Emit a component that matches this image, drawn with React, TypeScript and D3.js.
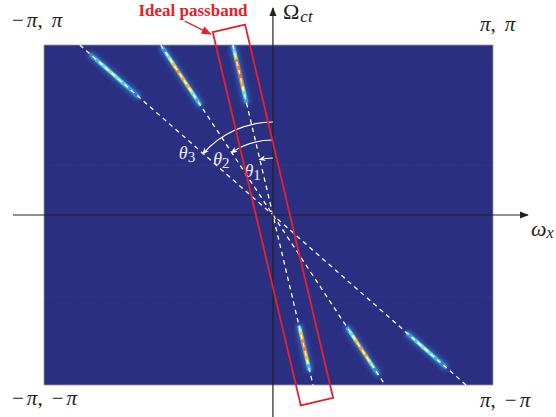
import React from "react";
import * as d3 from "d3";

const W = 556;
const H = 417;

// Spectral support lines: ω_x where each line meets Ω_ct = π
const lineLabels = ["1", "2", "3"];
const lineTopOmega = [-0.55, -1.54, -2.65];

// Energy streaks lying on the lines: which line, Ω_ct range, intensity samples
const streakLine = [0, 0, 1, 1, 2, 2];
const streakOmegaFrom = [3.1, -2.07, 3.08, -2.1, 2.95, -2.2];
const streakOmegaTo = [2.1, -2.85, 2.05, -2.92, 2.2, -2.8];
const streakProfiles = [
  [0.35, 0.5, 0.68, 0.85, 0.97, 0.82, 1.0, 0.86, 0.96, 0.78, 0.62, 0.48, 0.35],
  [0.38, 0.58, 0.75, 0.92, 0.8, 1.0, 0.85, 0.97, 0.8, 0.9, 0.7, 0.5, 0.36],
  [0.3, 0.45, 0.6, 0.74, 0.86, 0.92, 0.8, 0.9, 0.76, 0.62, 0.5, 0.36],
  [0.34, 0.5, 0.64, 0.76, 0.86, 0.92, 0.82, 0.9, 0.72, 0.56, 0.42, 0.32],
  [0.3, 0.42, 0.52, 0.58, 0.62, 0.6, 0.56, 0.5, 0.44, 0.36, 0.28],
  [0.3, 0.44, 0.54, 0.6, 0.62, 0.56, 0.48, 0.38, 0.3],
];

// Ideal passband: band around the first line
const passbandHalfWidth = 0.234; // in ω_x units, measured horizontally
const passbandHalfLength = 3.45; // in Ω_ct units

// Faint grid rows in the spectrum image
const gridRows = [0.92, -1.52];

// Corner labels
const cornerLabels = [
  { w: "−π", o: "π", ax: -1, ay: 1 },
  { w: "π", o: "π", ax: 1, ay: 1 },
  { w: "−π", o: "−π", ax: -1, ay: -1 },
  { w: "π", o: "−π", ax: 1, ay: -1 },
];

const PI = Math.PI;

const x = d3.scaleLinear().domain([-PI, 3.02]).range([44, 493]);
const y = d3.scaleLinear().domain([-PI, PI]).range([385, 45]);

const colormap = d3
  .scaleLinear<string>()
  .domain([0, 0.22, 0.4, 0.55, 0.7, 0.85, 1])
  .range(["#2b2f82", "#2f4fae", "#3d9ee0", "#5fe3e6", "#d6e35a", "#f2b22c", "#e0262a"])
  .interpolate(d3.interpolateRgb)
  .clamp(true);

const lineX = (li: number, om: number) => x((om / PI) * lineTopOmega[li]);

const serif = "'Liberation Serif', 'DejaVu Serif', serif";

function MathPair({ a, b, px, py }: { a: string; b: string; px: number; py: number }) {
  const part = (s: string, lead: number) =>
    s.startsWith("−") ? (
      <>
        <tspan fontStyle="normal" dx={lead}>−</tspan>
        <tspan fontStyle="italic" dx={3}>π</tspan>
      </>
    ) : (
      <tspan fontStyle="italic" dx={lead}>π</tspan>
    );
  return (
    <text x={px} y={py} fontFamily={serif} fontSize={21} fill="#222">
      {part(a, 0)}
      <tspan fontStyle="normal">,</tspan>
      {part(b, 9)}
    </text>
  );
}

export default function App() {
  const x0 = x(0);
  const y0 = y(0);

  // streak geometry
  const streaks = streakProfiles.map((prof, si) => {
    const li = streakLine[si];
    const oms = prof.map((_, k) =>
      streakOmegaFrom[si] + ((streakOmegaTo[si] - streakOmegaFrom[si]) * k) / (prof.length - 1)
    );
    const pts = oms.map((om) => [lineX(li, om), y(om)] as [number, number]);
    return { li, prof, pts };
  });

  // passband rectangle corners
  const l1 = 0;
  const topC: [number, number] = [lineX(l1, passbandHalfLength), y(passbandHalfLength)];
  const botC: [number, number] = [lineX(l1, -passbandHalfLength), y(-passbandHalfLength)];
  const dx = botC[0] - topC[0];
  const dy = botC[1] - topC[1];
  const len = Math.hypot(dx, dy);
  const hw = (x(passbandHalfWidth) - x(0)) * (Math.abs(dy) / len);
  const nx = -dy / len;
  const ny = dx / len;
  const rect: [number, number][] = [
    [topC[0] + nx * hw, topC[1] + ny * hw],
    [topC[0] - nx * hw, topC[1] - ny * hw],
    [botC[0] - nx * hw, botC[1] - ny * hw],
    [botC[0] + nx * hw, botC[1] + ny * hw],
  ];
  const leftTop = rect[0][0] < rect[1][0] ? rect[0] : rect[1];

  const arcRadii = [57, 75, 93];
  const labelOffsets = [
    [1, 17],
    [-2, 13],
    [-8, 5],
  ];

  const lineGen = d3.line();

  return (
    <svg
      width={W}
      height={H}
      style={{ position: "absolute", left: 0, top: 0, background: "#fff" }}
      fontFamily={serif}
    >
      <defs>
        <filter id="blurCore" x="-50%" y="-50%" width="200%" height="200%">
          <feGaussianBlur stdDeviation={0.7} />
        </filter>
        <filter id="blurHalo" x="-50%" y="-50%" width="200%" height="200%">
          <feGaussianBlur stdDeviation={2.2} />
        </filter>
        <clipPath id="plotClip">
          <rect x={x(-PI)} y={y(PI)} width={x(3.02) - x(-PI)} height={y(-PI) - y(PI)} />
        </clipPath>
        <marker id="arrowBlack" viewBox="0 0 10 10" refX={9} refY={5} markerWidth={9} markerHeight={9} markerUnits="userSpaceOnUse" orient="auto">
          <path d="M0,1 L10,5 L0,9 z" fill="#222" />
        </marker>
        <marker id="arrowRed" viewBox="0 0 10 10" refX={9} refY={5} markerWidth={10} markerHeight={10} markerUnits="userSpaceOnUse" orient="auto">
          <path d="M0,1 L10,5 L0,9 z" fill="#e8202a" />
        </marker>
        <marker id="arrowWhite" viewBox="0 0 10 10" refX={8} refY={5} markerWidth={7} markerHeight={7} markerUnits="userSpaceOnUse" orient="auto">
          <path d="M0,1 L10,5 L0,9 L3,5 z" fill="#fff" />
        </marker>
      </defs>

      {/* spectrum image */}
      <g clipPath="url(#plotClip)">
        <rect x={x(-PI)} y={y(PI)} width={x(3.02) - x(-PI)} height={y(-PI) - y(PI)} fill={colormap(0)} />
        {gridRows.map((g, i) => (
          <line key={i} x1={x(-PI)} x2={x(3.02)} y1={y(g)} y2={y(g)} stroke="#4a5aa8" strokeWidth={0.8} strokeDasharray="1,2" opacity={0.5} />
        ))}
        {streaks.map((s, si) => (
          <g key={si}>
            {/* horizontal ringing around the streak */}
            {s.pts.map((p, k) => (
              <line
                key={k}
                x1={p[0] - 16 * s.prof[k]}
                x2={p[0] + 16 * s.prof[k]}
                y1={p[1]}
                y2={p[1]}
                stroke={colormap(0.2)}
                strokeWidth={2}
                opacity={0.45 * s.prof[k]}
                filter="url(#blurCore)"
              />
            ))}
            <path d={lineGen(s.pts) || ""} stroke={colormap(0.32)} strokeWidth={8} fill="none" strokeLinecap="round" opacity={0.65} filter="url(#blurHalo)" />
            <path d={lineGen(s.pts) || ""} stroke={colormap(0.45)} strokeWidth={4.5} fill="none" strokeLinecap="round" opacity={0.6} filter="url(#blurCore)" />
            <g filter="url(#blurCore)">
              {s.pts.slice(1).map((p, k) => (
                <line
                  key={k}
                  x1={s.pts[k][0]}
                  y1={s.pts[k][1]}
                  x2={p[0]}
                  y2={p[1]}
                  stroke={colormap((s.prof[k] + s.prof[k + 1]) / 2)}
                  strokeWidth={3.2}
                  strokeLinecap="round"
                />
              ))}
            </g>
          </g>
        ))}
      </g>
      <rect x={x(-PI)} y={y(PI)} width={x(3.02) - x(-PI)} height={y(-PI) - y(PI)} fill="none" stroke="#9a9aa8" strokeWidth={0.8} />

      {/* dashed support lines */}
      {lineTopOmega.map((_, li) => (
        <line
          key={li}
          x1={lineX(li, PI)}
          y1={y(PI)}
          x2={lineX(li, -PI)}
          y2={y(-PI)}
          stroke="#fff"
          strokeWidth={1.3}
          strokeDasharray="4.5,4"
        />
      ))}

      {/* axes */}
      <line x1={13} y1={y0} x2={528} y2={y0} stroke="#222" strokeWidth={1.2} markerEnd="url(#arrowBlack)" />
      <line x1={x0} y1={H} x2={x0} y2={8} stroke="#222" strokeWidth={1.2} markerEnd="url(#arrowBlack)" />

      {/* angle arcs */}
      {lineTopOmega.map((_, li) => {
        const r = arcRadii[li];
        const ang = Math.atan2(y(PI) - y0, lineX(li, PI) - x0);
        const p = d3.path();
        p.arc(x0, y0, r, -PI / 2, ang, true);
        const ex = x0 + r * Math.cos(ang);
        const ey = y0 + r * Math.sin(ang);
        const [ox, oy] = labelOffsets[li];
        return (
          <g key={li}>
            <path d={p.toString()} stroke="#fff" strokeWidth={1.2} fill="none" markerEnd="url(#arrowWhite)" />
            <text x={ex + ox} y={ey + oy} textAnchor="end" fill="#e8ecf8" fontSize={18} fontStyle="italic">
              θ<tspan fontSize={15} fontStyle="normal" dy={3}>{lineLabels[li]}</tspan>
            </text>
          </g>
        );
      })}

      {/* passband */}
      <path d={(lineGen(rect) || "") + "Z"} fill="none" stroke="#e8202a" strokeWidth={1.8} strokeLinejoin="miter" />
      <line x1={leftTop[0] - 28} y1={leftTop[1] - 11} x2={leftTop[0] - 2} y2={leftTop[1] + 2} stroke="#e8202a" strokeWidth={1.2} markerEnd="url(#arrowRed)" />
      <text x={193} y={16} textAnchor="middle" fill="#e8202a" fontWeight="bold" fontSize={17}>
        Ideal passband
      </text>

      {/* axis titles */}
      <text x={283} y={19} fill="#222" fontSize={22}>
        Ω<tspan fontStyle="italic" fontSize={17} dy={3} dx={1}>ct</tspan>
      </text>
      <text x={531} y={236} fill="#222" fontSize={22} fontStyle="italic">
        ω<tspan fontSize={16} dy={2}>x</tspan>
      </text>

      {/* corner labels */}
      {cornerLabels.map((c, i) => {
        const px = c.ax < 0 ? 12 : 480;
        const py = c.ay > 0 ? (c.ax < 0 ? 27 : 31) : c.ax < 0 ? 405 : 407;
        return <MathPair key={i} a={c.w} b={c.o} px={px} py={py} />;
      })}
    </svg>
  );
}
